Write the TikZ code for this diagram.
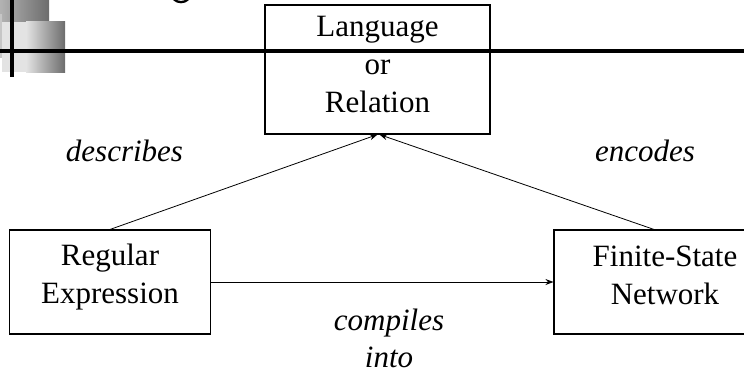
\documentclass[tikz,border=0pt]{standalone}
\usepackage{fontspec}
\setmainfont{Liberation Serif}
\usetikzlibrary{arrows.meta}

\begin{document}
\begin{tikzpicture}[x=1pt, y=1pt, box/.style={draw, line width=1.1pt, align=center, inner sep=0pt, font=\fontsize{31}{38}\selectfont}, lbl/.style={font=\fontsize{31}{38}\selectfont\itshape, anchor=base}, arr/.style={line width=0.8pt, -{Stealth[length=8pt, width=6pt]}}]
	\useasboundingbox (0,0) rectangle (744,-373);
	\shade[left color=gray!60, right color=gray!85!black] (0,0) rectangle (49,-22);
	\fill[gray!45] (0,-14) rectangle (2,-58);
	\fill[gray!22] (2,-22) rectangle (26,-72);
	\shade[left color=gray!22, right color=gray!85!black] (26,-21) rectangle (65,-72);
	\fill[black] (10,0) rectangle (14,-77);
	\draw[line width=2.3pt] (174,0.5) .. controls (178,-3) and (184,-3) .. (188,0.5);
	\node[box, minimum width=225, minimum height=129] (lang) at (377.5,-69.5) {Language\\or\\Relation\rule[-10pt]{0pt}{10pt}};
	\node[box, minimum width=200.5, minimum height=104] (regex) at (110,-282) {Regular\\Expression\rule[-16pt]{0pt}{16pt}};
	\node[box, minimum width=222, minimum height=104] (fsn) at (665,-282) {Finite-State\\Network\rule[-13pt]{0pt}{13pt}};
	\fill[black] (0,-49) rectangle (744,-53);
	\draw[arr] (regex.north) -- (lang.south);
	\draw[arr] ([xshift=-11pt]fsn.north) -- ([xshift=2pt]lang.south);
	\draw[arr] (regex.east) -- (fsn.west);
	\node[lbl] (describes) at (124.5,-161) {describes};
	\node[lbl] (encodes) at (645,-161) {encodes};
	\node[lbl] (compiles) at (389,-330) {compiles};
	\node[lbl] (into) at (389,-367) {into};
\end{tikzpicture}
\end{document}
